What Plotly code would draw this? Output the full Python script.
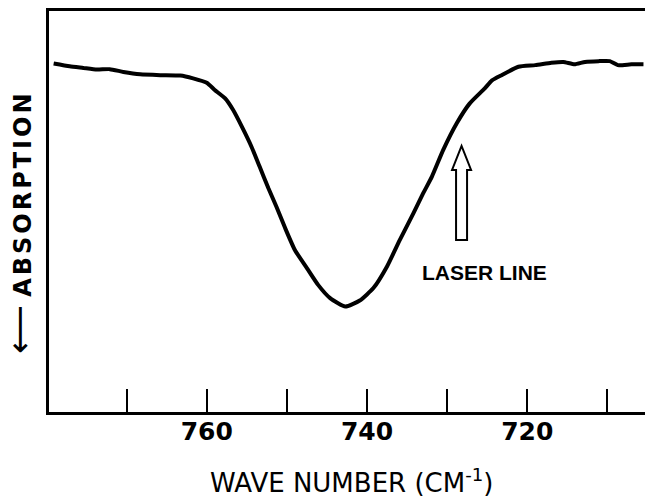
import plotly.graph_objects as go

# Spectrum (wave number in cm^-1, relative transmission 0-100)
wave_number = [779.1, 777.1, 775.4, 773.7, 772.1, 770.4, 768.3, 765.8, 763.3, 761.7,
               760.0, 759.0, 757.7, 756.7, 755.6, 754.4, 753.4, 752.3, 751.3, 750.2,
               749.0, 747.5, 746.1, 744.6, 742.7, 740.9, 739.2, 737.5, 735.9, 734.2,
               733.0, 731.9, 730.5, 728.8, 727.2, 725.3, 724.4, 723.2, 721.1, 719.0,
               717.0, 715.5, 714.1, 712.8, 711.1, 709.7, 708.7, 707.0, 705.5]
transmission = [86.9, 86.2, 85.8, 85.4, 85.5, 84.8, 84.2, 84.0, 83.9, 83.2,
                82.1, 80.3, 78.2, 75.3, 71.1, 66.1, 61.2, 55.8, 51.2, 45.8,
                40.4, 35.9, 31.7, 28.4, 26.3, 27.8, 30.9, 36.3, 42.9, 49.6,
                54.5, 58.7, 65.3, 72.0, 76.9, 80.7, 82.7, 84.0, 86.1, 86.5,
                87.1, 87.3, 86.7, 87.3, 87.5, 87.5, 86.5, 86.7, 86.7]

major_ticks = [760, 740, 720]
major_labels = ["760", "740", "720"]
minor_ticks = [770, 750, 730, 710]

laser_line_wn = 728.2
laser_arrow_base = 42.9

x_range = [779.68, 705.31]
y_range = [0, 100]

fig = go.Figure()
fig.add_trace(go.Scatter(
    x=wave_number, y=transmission, mode="lines",
    line=dict(color="black", width=4, shape="spline", smoothing=0.5),
    hoverinfo="skip", showlegend=False,
))

# hollow arrow marking the laser line (pixel-sized shape anchored at data coords)
fig.add_shape(
    type="path", xref="x", yref="y",
    xsizemode="pixel", ysizemode="pixel",
    xanchor=laser_line_wn, yanchor=laser_arrow_base,
    path="M -5.5 0 L -5.5 70 L -9.5 70 L 0 94 L 9.5 70 L 5.5 70 L 5.5 0 Z",
    line=dict(color="black", width=2), fillcolor="white",
)

fig.add_annotation(
    text="LASER LINE", x=(484 - 49) / 596, y=(412.3 - 272.5) / 401.6,
    xref="paper", yref="paper", showarrow=False,
    xanchor="center", yanchor="middle",
    font=dict(family="Liberation Sans", size=21, color="black", weight="bold"),
)

fig.add_annotation(
    text="WAVE NUMBER (CM<sup>-1</sup>)", x=(351 - 49) / 596, y=(412.3 - 481) / 401.6,
    xref="paper", yref="paper", showarrow=False,
    xanchor="center", yanchor="middle",
    font=dict(family="DejaVu Sans", size=26, color="black"),
)

fig.add_annotation(
    text="<span style='font-size:34px;font-weight:normal'>⟵</span> "
         "<span style='letter-spacing:3px'>ABSORPTION</span>",
    x=(19 - 49) / 596, y=(412.3 - 222) / 401.6,
    xref="paper", yref="paper", showarrow=False, textangle=-90,
    xanchor="center", yanchor="middle",
    font=dict(family="DejaVu Sans", size=24, color="black", weight="bold"),
)

fig.update_layout(
    width=645, height=497,
    margin=dict(l=49, r=0, t=11, b=85),
    paper_bgcolor="white", plot_bgcolor="white",
    xaxis=dict(
        range=x_range, showgrid=False, zeroline=False,
        showline=True, linecolor="black", linewidth=3, mirror=True,
        ticks="inside", ticklen=23, tickwidth=2, tickcolor="black",
        tickvals=major_ticks, ticktext=major_labels,
        minor=dict(tickvals=minor_ticks, ticks="inside", ticklen=23,
                   tickwidth=2, tickcolor="black", showgrid=False),
        tickfont=dict(family="DejaVu Sans", size=25, color="black", weight="bold"),
        ticklabelstandoff=-5,
    ),
    yaxis=dict(
        range=y_range, showgrid=False, zeroline=False,
        showline=True, linecolor="black", linewidth=3,
        showticklabels=False, ticks="",
    ),
)

fig.write_html("out.html", config={"displayModeBar": False},
               post_script="document.body.style.margin='0px';")
